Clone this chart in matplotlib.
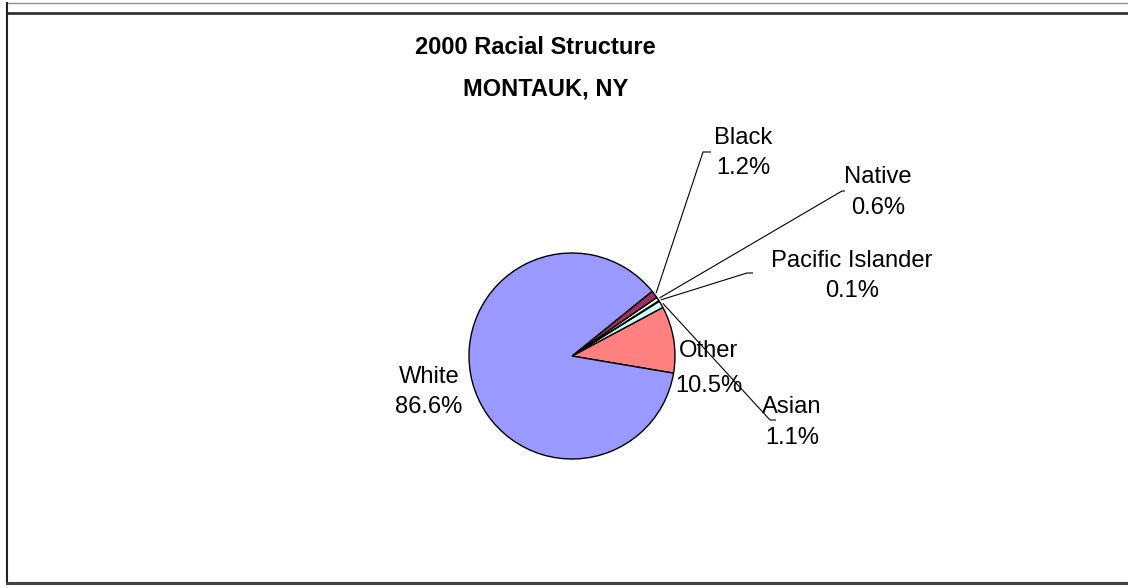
import numpy as np
import matplotlib
matplotlib.use('Agg')
import matplotlib.pyplot as plt

plt.rcParams['font.family'] = ['Liberation Sans', 'DejaVu Sans']

# data (counter-clockwise from the lower edge of "Other")
races = ['Other', 'Asian', 'Pacific Islander', 'Native', 'Black', 'White']
shares = [10.5, 1.1, 0.1, 0.6, 1.2, 86.6]
colors = ['#FF8080', '#CCFFFF', '#660066', '#FFFFCC', '#993366', '#9999FF']
title_lines = ['2000 Racial Structure', 'MONTAUK, NY']

W, H = 1128, 588
fig = plt.figure(figsize=(W / 100, H / 100), dpi=100)
ax = fig.add_axes([0, 0, 1, 1])

cx, cy, r = 572, H - 356, 103
wedges, _ = ax.pie(shares, colors=colors, startangle=-9.6, counterclock=True,
                   center=(cx, cy), radius=r,
                   wedgeprops=dict(edgecolor='black', linewidth=1.0))

ax.set_xlim(0, W)
ax.set_ylim(0, H)
ax.set_aspect('equal')
ax.axis('off')

# label placement (pixels from top-left): text centre, line spacing, leader elbow
label_pos = {
    'Other': (709, 368.5, 1.8, None),
    'Asian': (792, 422.5, 1.5, (770, 420, 776)),
    'Pacific Islander': (852, 276, 1.5, (747, 273, 753)),
    'Native': (878, 192.5, 1.5, (842, 191, 845)),
    'Black': (743, 153, 1.5, (703, 152, 711)),
    'White': (429, 392, 1.5, None),
}

for w, name, val in zip(wedges, races, shares):
    tx, ty, ls, lead = label_pos[name]
    ax.text(tx, H - ty, f'{name}\n{val:.1f}%', ha='center', va='center',
            multialignment='center', fontsize=17.1, linespacing=ls)
    if lead is not None:
        mid = np.deg2rad((w.theta1 + w.theta2) / 2)
        sx, sy = cx + (r + 2) * np.cos(mid), cy + (r + 2) * np.sin(mid)
        ex, ey, hx = lead
        ax.plot([sx, ex, hx], [sy, H - ey, H - ey], color='black', lw=0.8,
                solid_capstyle='butt')

ax.text(535, H - 47, title_lines[0], ha='center', va='center',
        fontsize=17, fontweight='bold')
ax.text(546, H - 89, title_lines[1], ha='center', va='center',
        fontsize=17, fontweight='bold')

# surrounding frame
ax.plot([7, W], [H - 3, H - 3], color='#909090', lw=1.0)
ax.plot([7, W], [H - 12.5, H - 12.5], color='#333333', lw=2.0)
ax.plot([7, 7], [H - 3, H - 583], color='#222222', lw=1.5)
ax.plot([7, W], [H - 583, H - 583], color='#404040', lw=2.2)

fig.savefig('out.png', dpi=100, facecolor='white')
